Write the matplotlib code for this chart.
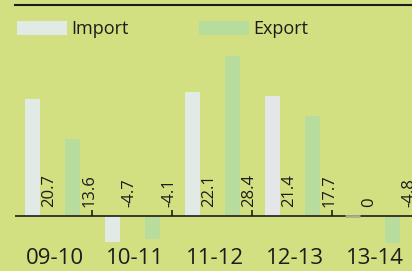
import numpy as np
import matplotlib.pyplot as plt
from matplotlib.patches import Rectangle
from matplotlib.lines import Line2D

plt.rcParams['font.family'] = ['Open Sans', 'DejaVu Sans']

years = ["09-10", "10-11", "11-12", "12-13", "13-14"]
imports = [20.7, -4.7, 22.1, 21.4, 0]
exports = [13.6, -4.1, 28.4, 17.7, -4.8]
import_labels = ["20.7", "-4.7", "22.1", "21.4", "0"]
export_labels = ["13.6", "-4.1", "28.4", "17.7", "-4.8"]

BG = "#D3E081"
IMP = "#E2EAE5"
EXP = "#B8DC9C"
INK = "#1c1c1c"

W, H = 412, 271
fig = plt.figure(figsize=(W / 100, H / 100), dpi=100)
fig.patch.set_facecolor(BG)


def fx(px):
    return px / W


def fy(py):
    return 1 - py / H


# axes: pixel 15..412 horizontally, full height
ax = fig.add_axes([fx(15), 0, fx(W - 15), 1])
ax.set_facecolor(BG)
for s in ax.spines.values():
    s.set_visible(False)
ax.set_xticks([])
ax.set_yticks([])

px_unit = 80.0
scale = 5.63
x = np.arange(len(years))
ax.set_xlim((15 - 52.5) / px_unit, (412 - 52.5) / px_unit)
ax.set_ylim(-(H - 216) / scale, 216 / scale)

off = 20 / px_unit
bw = 15 / px_unit
imp_colors = [IMP, IMP, IMP, "#E5E6E8", IMP]
ax.bar(x - off, imports, width=bw, color=imp_colors, zorder=2)
ax.bar(x + off, exports, width=bw, color=EXP, zorder=2)

# zero-value bar shown as a thin grey stub
for xi, v in zip(x, imports):
    if v == 0:
        ax.plot([xi - off - bw / 2, xi - off + bw / 2], [0, 0],
                color="#A9AE8E", lw=2, zorder=4, solid_capstyle="butt")

ax.axhline(0, color=INK, lw=1.2, zorder=3)
ax.vlines(x[:-1] + 0.5, 0, 6 / scale, color=INK, lw=1.2, zorder=3)

lab_dx = 17 / px_unit
lab_y = 9 / scale
for xi, t in zip(x, import_labels):
    ax.text(xi - off + lab_dx, lab_y, t, rotation=90, ha="center", va="bottom",
            fontsize=12, color=INK, zorder=5)
for xi, t in zip(x, export_labels):
    ax.text(xi + off + lab_dx, lab_y, t, rotation=90, ha="center", va="bottom",
            fontsize=12, color=INK, zorder=5, clip_on=False)

for xi, t in zip(x, years):
    ax.text(xi + 2.5 / px_unit, -(258 - 216) / scale, t, ha="center", va="center",
            fontsize=16, color=INK)

# top rule
fig.add_artist(Line2D([fx(15), 1], [fy(5), fy(5)], color=INK, lw=1.5))

# legend
for px0, col, name in [(17, IMP, "Import"), (199, EXP, "Export")]:
    fig.add_artist(Rectangle((fx(px0), fy(35)), fx(50), 14 / H,
                             facecolor=col, edgecolor="none"))
    fig.text(fx(px0 + 54), fy(29), name, ha="left", va="center",
             fontsize=13, color=INK)

fig.savefig("out.png", dpi=100, facecolor=BG)
